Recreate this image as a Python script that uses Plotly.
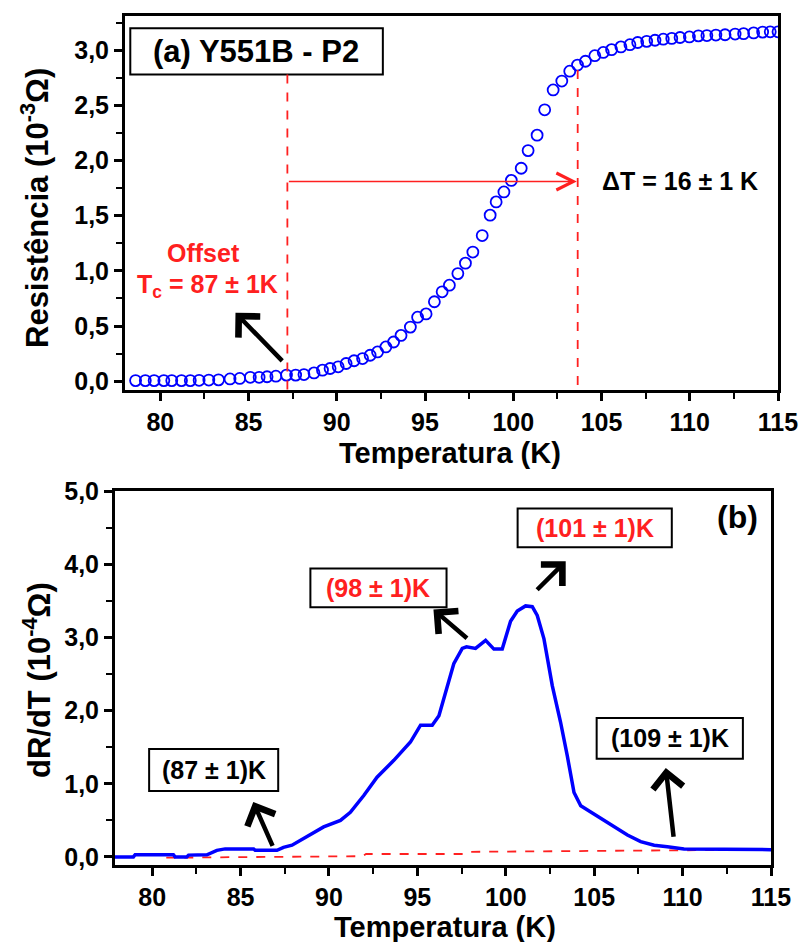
import plotly.graph_objects as go

# (a) resistance vs temperature, measured points
temp_a = [78.6, 79.15, 79.65, 80.2, 80.65, 81.2, 81.7, 82.2, 82.75, 83.3, 83.95, 84.5, 85.1, 85.6,
          86.05, 86.55, 87.15, 87.67, 88.14, 88.71, 89.19, 89.62, 90.08, 90.53, 90.98, 91.46, 91.89,
          92.31, 92.78, 93.22, 93.64, 94.17, 94.58, 95.06, 95.53, 95.97, 96.38, 96.86, 97.29, 97.71,
          98.24, 98.69, 99.03, 99.47, 99.89, 100.45, 100.84, 101.35, 101.78, 102.26, 102.75, 103.2,
          103.64, 104.09, 104.62, 105.1, 105.57, 106.1, 106.61, 107.05, 107.56, 108.03, 108.5, 108.98,
          109.45, 109.98, 110.49, 110.97, 111.48, 112.0, 112.57, 113.05, 113.62, 114.13, 114.56, 115.0]
res_a = [0.005, 0.005, 0.005, 0.005, 0.005, 0.005, 0.005, 0.008, 0.01, 0.012, 0.02, 0.025, 0.035, 0.035,
         0.04, 0.045, 0.055, 0.055, 0.06, 0.075, 0.10, 0.115, 0.13, 0.16, 0.185, 0.205, 0.235,
         0.265, 0.31, 0.355, 0.415, 0.49, 0.58, 0.61, 0.72, 0.81, 0.87, 0.975, 1.07, 1.17,
         1.32, 1.505, 1.625, 1.715, 1.82, 1.93, 2.09, 2.23, 2.46, 2.64, 2.72, 2.81,
         2.865, 2.90, 2.95, 2.98, 3.005, 3.03, 3.05, 3.07, 3.08, 3.09, 3.10, 3.107,
         3.115, 3.12, 3.13, 3.133, 3.137, 3.14, 3.146, 3.15, 3.157, 3.164, 3.167, 3.167]

# (b) derivative dR/dT
temp_b = [77.9, 78.94, 79.04, 81.2, 81.3, 81.96, 82.06, 83.1, 83.66, 84.13, 85.74, 85.83, 87.06, 87.43,
          87.91, 88.57, 89.13, 89.7, 90.65, 91.21, 91.97, 92.72, 93.67, 94.04, 94.61, 95.18, 95.84,
          96.22, 96.59, 97.06, 97.54, 97.78, 98.29, 98.86, 99.33, 99.8, 100.27, 100.65, 101.12, 101.5,
          101.78, 102.16, 102.63, 103.1, 103.48, 103.86, 104.24, 104.99, 105.93, 106.88, 107.63,
          108.39, 109.14, 110.08, 115.0]
dRdT_b = [0.0, 0.0, 0.03, 0.03, 0.0, 0.0, 0.025, 0.03, 0.09, 0.11, 0.11, 0.09, 0.09, 0.13,
          0.16, 0.25, 0.34, 0.41, 0.50, 0.61, 0.84, 1.09, 1.32, 1.42, 1.57, 1.80, 1.80,
          1.93, 2.23, 2.64, 2.85, 2.87, 2.85, 2.96, 2.84, 2.84, 3.22, 3.36, 3.43, 3.42,
          3.30, 2.98, 2.34, 1.84, 1.38, 0.88, 0.70, 0.59, 0.44, 0.30, 0.21,
          0.16, 0.14, 0.11, 0.10]

# baseline under the derivative
base_T = [80.8, 91.9, 92.1, 97.7, 98.0, 115.0]
base_V = [-0.01, 0.01, 0.04, 0.04, 0.07, 0.10]

x_ticks = [80, 85, 90, 95, 100, 105, 110, 115]

FONT = "Liberation Sans, Arial, sans-serif"
W, H = 803, 942
RED = "#ff2020"
BLUE = "#0000ff"

fig = go.Figure()

fig.add_trace(go.Scatter(
    x=temp_a, y=res_a, mode="markers", xaxis="x", yaxis="y",
    marker=dict(symbol="circle-open", size=11, color=BLUE, line=dict(width=1.8, color=BLUE)),
    showlegend=False, cliponaxis=True))

fig.add_trace(go.Scatter(
    x=base_T, y=base_V, mode="lines", xaxis="x2", yaxis="y2",
    line=dict(color=RED, width=1.8, dash="dash"), showlegend=False))

fig.add_trace(go.Scatter(
    x=temp_b, y=dRdT_b, mode="lines", xaxis="x2", yaxis="y2",
    line=dict(color=BLUE, width=3.5), showlegend=False))


def axis_style(dom, rng, anchor, **kw):
    d = dict(domain=dom, range=rng, anchor=anchor, automargin=False,
             showline=True, linecolor="black", linewidth=3, mirror=True,
             ticks="outside", ticklen=8, tickwidth=2.5, tickcolor="black", showgrid=False,
             zeroline=False,
             tickfont=dict(family=FONT, size=25, color="black", weight="bold"))
    d.update(kw)
    return d


minor_x = dict(ticks="outside", ticklen=6, tickwidth=2, tickcolor="black", dtick=2.5, tick0=80)

xa = axis_style([125 / W, 778 / W], [78, 115], "y", tickmode="array", tickvals=x_ticks, minor=minor_x)
ya = axis_style([1 - 390 / H, 1 - 16 / H], [-0.08, 3.31], "x", dtick=0.5, tick0=0, tickformat=".1f",
                minor=dict(ticks="outside", ticklen=6, tickwidth=2, tickcolor="black", dtick=0.25, tick0=0))
xb = axis_style([115 / W, 771 / W], [77.9, 115], "y2", tickmode="array", tickvals=x_ticks, minor=minor_x)
yb = axis_style([1 - 865 / H, 1 - 491 / H], [-0.11, 5.0], "x2", dtick=1, tick0=0, tickformat=".1f",
                minor=dict(ticks="outside", ticklen=6, tickwidth=2, tickcolor="black", dtick=0.5, tick0=0))

ann = []


def txt(x, y, s, xref, yref, size=25, color="black", xanchor="center", yanchor="middle", angle=0):
    ann.append(dict(x=x, y=y, xref=xref, yref=yref, text=s, showarrow=False, xanchor=xanchor,
                    yanchor=yanchor, textangle=angle,
                    font=dict(family=FONT, size=size, color=color, weight="bold")))


def arrow(x_head, y_head, x_tail, y_tail, xref, yref, color="black", width=4.5, head=4, size=1.3):
    ann.append(dict(x=x_head, y=y_head, ax=x_tail, ay=y_tail, xref=xref, yref=yref,
                    axref=xref, ayref=yref, text="", showarrow=True, arrowhead=head,
                    arrowsize=size, arrowwidth=width, arrowcolor=color))


# axis titles
txt(450 / W, 1 - 453 / H, "Temperatura (K)", "paper", "paper", size=29)
txt(445 / W, 1 - 927 / H, "Temperatura (K)", "paper", "paper", size=29)
txt(35 / W, 1 - 208 / H, "Resistência (10<sup>-3</sup>Ω)", "paper", "paper", size=31, angle=-90)
txt(37 / W, 1 - 680 / H, "dR/dT (10<sup>-4</sup>Ω)", "paper", "paper", size=31, angle=-90)

shapes = []


def box(x0, x1, y0, y1, xref, yref):
    shapes.append(dict(type="rect", x0=x0, x1=x1, y0=y0, y1=y1, xref=xref, yref=yref,
                       line=dict(color="black", width=2), fillcolor="white", layer="above"))


def vdash(x, y0, y1, xref, yref):
    shapes.append(dict(type="line", x0=x, x1=x, y0=y0, y1=y1, xref=xref, yref=yref,
                       line=dict(color=RED, width=1.8, dash="dash")))


# panel (a)
box(78.3, 92.61, 2.78, 3.20, "x", "y")
txt(85.45, 2.99, "(a) Y551B - P2", "x", "y", size=31)
vdash(87.2, 2.78, -0.08, "x", "y")
vdash(103.65, 2.82, -0.08, "x", "y")
arrow(103.6, 1.81, 87.2, 1.81, "x", "y", color=RED, width=1.5, head=5, size=2.2)
txt(104.94, 1.81, "ΔT = 16 ± 1 K", "x", "y", size=25, xanchor="left")
txt(82.44, 1.16, "Offset", "x", "y", size=25, color=RED)
txt(82.7, 0.86, "T<sub>c</sub> = 87 ± 1K", "x", "y", size=25, color=RED)
arrow(84.26, 0.62, 86.99, 0.17, "x", "y")

# panel (b)
box(79.83, 87.13, 0.90, 1.475, "x2", "y2")
txt(83.48, 1.19, "(87 ± 1)K", "x2", "y2")
arrow(85.72, 0.75, 86.85, 0.13, "x2", "y2")
box(88.95, 96.65, 3.41, 3.94, "x2", "y2")
txt(92.8, 3.67, "(98 ± 1)K", "x2", "y2", color=RED)
arrow(95.91, 3.38, 97.89, 2.97, "x2", "y2")
box(100.67, 109.39, 4.23, 4.76, "x2", "y2")
txt(105.03, 4.50, "(101 ± 1)K", "x2", "y2", color=RED)
arrow(103.39, 4.04, 101.69, 3.63, "x2", "y2")
box(105.14, 113.41, 1.34, 1.90, "x2", "y2")
txt(109.28, 1.62, "(109 ± 1)K", "x2", "y2")
arrow(109.05, 1.215, 109.5, 0.256, "x2", "y2")
txt(113.13, 4.64, "(b)", "x2", "y2", size=32)

fig.update_layout(
    width=W, height=H, margin=dict(l=0, r=0, t=0, b=0, pad=0), autosize=False,
    paper_bgcolor="white", plot_bgcolor="white", separators=",.",
    xaxis=xa, yaxis=ya, xaxis2=xb, yaxis2=yb,
    annotations=ann, shapes=shapes, showlegend=False,
    font=dict(family=FONT, color="black"),
)

fig.write_html("out.html", config={"displayModeBar": False})
